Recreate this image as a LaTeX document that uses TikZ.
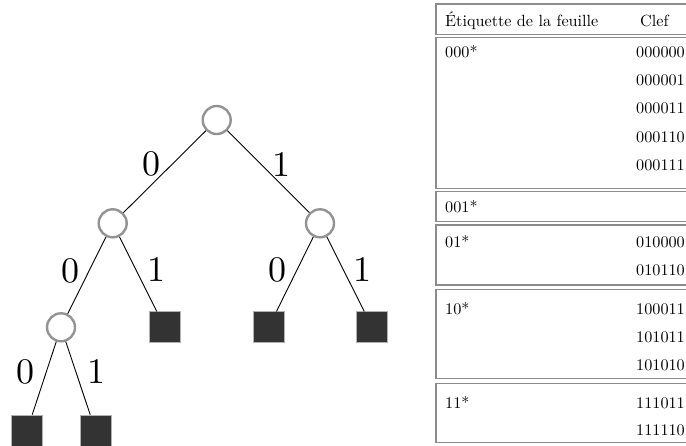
\documentclass[tikz,border=0pt]{standalone}
\newcommand{\edgelbl}[1]{\scalebox{3.6}{#1}}
\newcommand{\tabtxt}[1]{\scalebox{1.62}{#1}}
\begin{document}
\begin{tikzpicture}[x=1pt,y=-1pt,
  inode/.style={circle,draw=gray!85,line width=2.4pt,fill=white,minimum size=28pt,inner sep=0pt},
  leaf/.style={rectangle,draw=gray!60,line width=0.6pt,fill=black!80,minimum size=31pt,inner sep=0pt},
  edg/.style={line width=0.9pt,black},
  blab/.style={inner sep=0pt,font=\fontsize{10}{12}\selectfont},
  tbox/.style={draw=gray!90,line width=1.3pt},
  ttxt/.style={inner sep=0pt,anchor=base west,font=\fontsize{10}{12}\selectfont}]
\useasboundingbox (0,0) rectangle (686,445);
% tree
\node[inode] (r) at (216.7,120) {};
\node[inode] (a) at (112.7,223.3) {};
\node[inode] (b) at (320,223.3) {};
\node[inode] (c) at (61,327.3) {};
\node[leaf] (ab) at (164.7,327.2) {};
\node[leaf] (ba) at (268.7,327.2) {};
\node[leaf] (bb) at (372.2,327.2) {};
\node[leaf] (ca) at (27,430.5) {};
\node[leaf] (cb) at (95.5,430.5) {};
\draw[edg] (r) -- (a);
\draw[edg] (r) -- (b);
\draw[edg] (a) -- (c);
\draw[edg] (a) -- (ab);
\draw[edg] (b) -- (ba);
\draw[edg] (b) -- (bb);
\draw[edg] (c) -- (ca);
\draw[edg] (c) -- (cb);
\node[blab] (l1) at (151.7,164) {\edgelbl{0}};
\node[blab] (l2) at (281,165) {\edgelbl{1}};
\node[blab] (l3) at (70,271) {\edgelbl{0}};
\node[blab] (l4) at (156,270) {\edgelbl{1}};
\node[blab] (l5) at (277.3,270) {\edgelbl{0}};
\node[blab] (l6) at (362.7,270) {\edgelbl{1}};
\node[blab] (l7) at (25.7,372) {\edgelbl{0}};
\node[blab] (l8) at (96,372) {\edgelbl{1}};
% table
\draw[tbox] (436,4) rectangle (700,34.3);
\draw[tbox] (436,37.7) rectangle (700,188.3);
\draw[tbox] (436,191.7) rectangle (700,221.7);
\draw[tbox] (436,225) rectangle (700,285);
\draw[tbox] (436,289.3) rectangle (700,378.3);
\draw[tbox] (436,383.3) rectangle (700,442.7);
\node[ttxt] (h1) at (445,26) {\tabtxt{\'Etiquette de la feuille}};
\node[ttxt] (h2) at (640,26) {\tabtxt{Clef}};
\node[ttxt] (g1) at (445,57) {\tabtxt{000*}};
\node[ttxt] (k1) at (636,57) {\tabtxt{000000}};
\node[ttxt] (k2) at (636,85.3) {\tabtxt{000001}};
\node[ttxt] (k3) at (636,113.6) {\tabtxt{000011}};
\node[ttxt] (k4) at (636,142) {\tabtxt{000110}};
\node[ttxt] (k5) at (636,170.3) {\tabtxt{000111}};
\node[ttxt] (g2) at (445,212.5) {\tabtxt{001*}};
\node[ttxt] (g3) at (445,247) {\tabtxt{01*}};
\node[ttxt] (k6) at (636,247) {\tabtxt{010000}};
\node[ttxt] (k7) at (636,275.3) {\tabtxt{010110}};
\node[ttxt] (g4) at (445,314.5) {\tabtxt{10*}};
\node[ttxt] (k8) at (636,314.5) {\tabtxt{100011}};
\node[ttxt] (k9) at (636,342) {\tabtxt{101011}};
\node[ttxt] (k10) at (636,370.3) {\tabtxt{101010}};
\node[ttxt] (g5) at (445,408) {\tabtxt{11*}};
\node[ttxt] (k11) at (636,408) {\tabtxt{111011}};
\node[ttxt] (k12) at (636,435.3) {\tabtxt{111110}};
\end{tikzpicture}
\end{document}
